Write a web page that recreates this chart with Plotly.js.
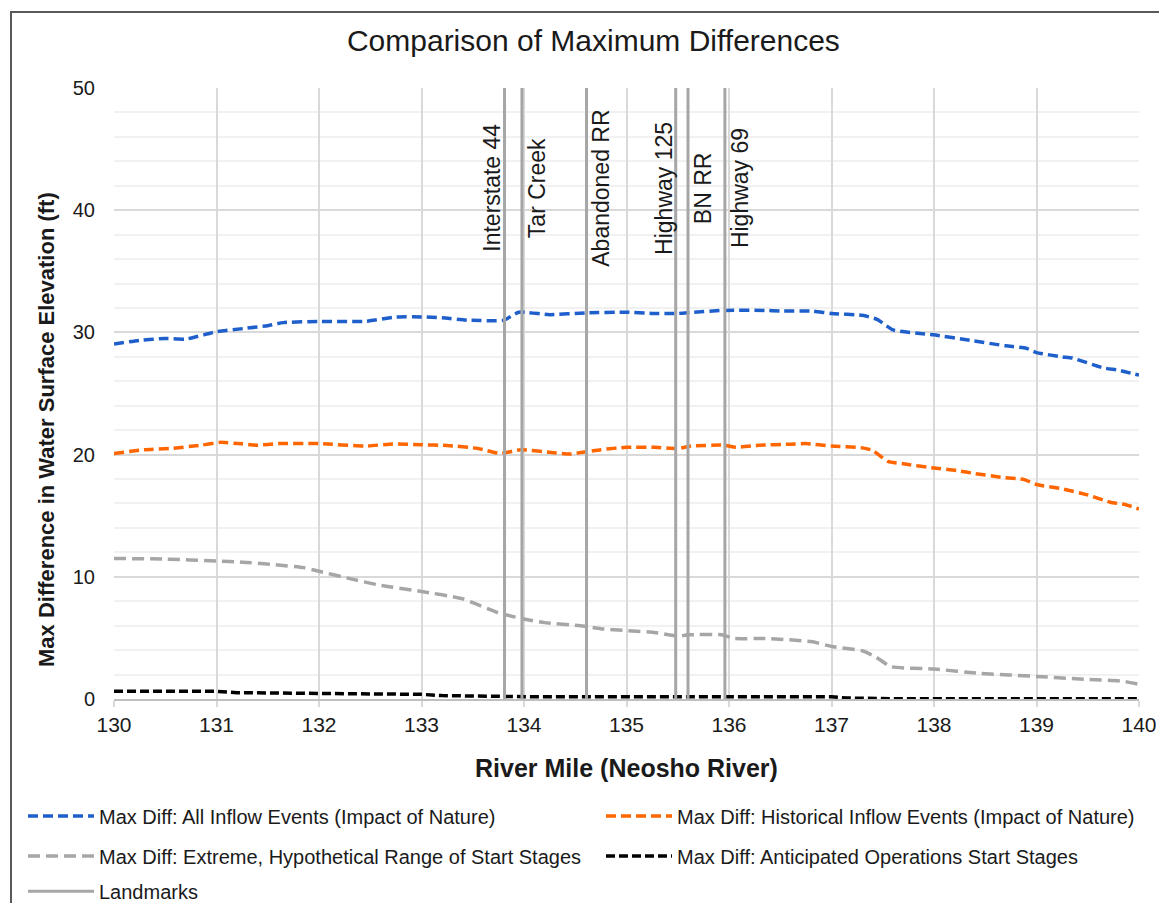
<!DOCTYPE html>
<html><head><meta charset="utf-8">
<script src="https://cdn.plot.ly/plotly-3.0.1.min.js"></script>
<style>html,body{margin:0;padding:0;background:#fff;overflow:hidden}#chart{width:1159px;height:903px}</style>
</head><body><div id="chart"></div>
<script>
// ---- data ----
const allInflowX = [130,130.25,130.5,130.7,131,131.3,131.5,131.65,132,132.45,132.75,133,133.2,133.45,133.8,133.95,134.25,134.6,135,135.25,135.5,135.65,135.95,136.35,136.5,136.8,137,137.3,137.45,137.6,138,138.35,138.7,138.9,139,139.25,139.35,139.65,139.8,140];
const allInflowY = [29.05,29.35,29.5,29.45,30.05,30.35,30.55,30.8,30.9,30.9,31.25,31.27,31.2,31.0,31.0,31.65,31.45,31.6,31.65,31.55,31.55,31.65,31.8,31.8,31.75,31.75,31.55,31.4,31.05,30.2,29.8,29.35,28.9,28.7,28.35,28.0,27.9,27.1,26.9,26.5];

const histX = [130,130.3,130.55,130.85,131.03,131.25,131.4,131.6,132,132.45,132.72,133,133.25,133.55,133.77,133.97,134.25,134.45,134.75,135,135.27,135.5,135.63,135.95,136.07,136.3,136.6,136.75,137,137.3,137.4,137.55,137.7,138,138.22,138.4,138.65,138.88,139,139.25,139.5,139.72,139.87,140];
const histY = [20.08,20.4,20.5,20.77,21.0,20.88,20.77,20.9,20.9,20.7,20.87,20.8,20.75,20.5,20.1,20.4,20.2,20.05,20.4,20.6,20.6,20.5,20.7,20.77,20.6,20.77,20.85,20.9,20.7,20.55,20.35,19.45,19.25,18.9,18.7,18.45,18.15,17.95,17.55,17.2,16.7,16.1,15.9,15.55];

const extremeX = [130,130.5,131,131.25,131.55,131.85,132,132.3,132.6,133,133.4,133.75,134,134.2,134.55,134.75,135,135.27,135.5,135.6,135.93,136.05,136.35,136.8,137,137.3,137.43,137.58,138,138.45,139,139.5,139.85,140];
const extremeY = [11.5,11.45,11.3,11.2,11.0,10.75,10.45,9.85,9.3,8.8,8.2,7.05,6.55,6.25,6.0,5.75,5.6,5.45,5.15,5.25,5.25,4.95,4.95,4.7,4.3,3.95,3.45,2.65,2.45,2.1,1.85,1.6,1.45,1.2];

const anticX = [130,131,131.2,132,133,133.2,134,134.1,137,137.15,137.6,140];
const anticY = [0.63,0.63,0.52,0.47,0.38,0.28,0.25,0.18,0.18,0.08,0.02,0.02];

const landmarkNames = ['Interstate 44','Tar Creek','Abandoned RR','Highway 125','BN RR','Highway 69'];
const landmarkMiles = [133.81,133.98,134.61,135.48,135.60,135.96];
const landmarkSide  = ['left','right','right','left','right','right'];
const landmarkRange = [0,50];

const seriesNames = [
  'Max Diff: All Inflow Events (Impact of Nature)',
  'Max Diff: Historical Inflow Events (Impact of Nature)',
  'Max Diff: Extreme, Hypothetical Range of Start Stages',
  'Max Diff: Anticipated Operations Start Stages',
  'Landmarks'
];
const xTicks = [130,131,132,133,134,135,136,137,138,139,140];
const yTicks = [0,10,20,30,40,50];

// ---- chart ----
const FONT = 'Liberation Sans, Arial, sans-serif';
const TXT = '#1a1a1a';

const lmX = [], lmY = [];
landmarkMiles.forEach(m => { lmX.push(m, m, null); lmY.push(landmarkRange[0], landmarkRange[1], null); });

const traces = [
  {x: allInflowX, y: allInflowY, name: seriesNames[0], mode: 'lines', legend: 'legend',
   line: {color: '#1f5fcc', width: 3.5, dash: '10px,5px', shape: 'spline', smoothing: 0.5}},
  {x: histX, y: histY, name: seriesNames[1], mode: 'lines', legend: 'legend2',
   line: {color: '#ff6600', width: 3.5, dash: '10px,5px', shape: 'spline', smoothing: 0.5}},
  {x: extremeX, y: extremeY, name: seriesNames[2], mode: 'lines', legend: 'legend3',
   line: {color: '#a6a6a6', width: 3.5, dash: '12px,6px', shape: 'spline', smoothing: 0.5}},
  {x: anticX, y: anticY, name: seriesNames[3], mode: 'lines', legend: 'legend4',
   line: {color: '#000000', width: 3.5, dash: '9px,4px'}},
  {x: lmX, y: lmY, name: seriesNames[4], mode: 'lines', legend: 'legend5',
   line: {color: '#a6a6a6', width: 3}, connectgaps: false}
];

const annotations = landmarkNames.map((n, i) => ({
  x: landmarkMiles[i], y: 41.8, xref: 'x', yref: 'y', text: n, showarrow: false,
  textangle: -90, xanchor: 'center', yanchor: 'middle',
  xshift: landmarkSide[i] === 'left' ? -12 : 15,
  font: {family: FONT, size: 23, color: TXT}
}));
// y-axis title (placed like the reference, slightly below the plot centre)
annotations.push({
  text: '<b>Max Difference in Water Surface Elevation (ft)</b>', showarrow: false,
  xref: 'paper', yref: 'paper', x: -0.0654, y: 0.4419, xanchor: 'center', yanchor: 'middle',
  textangle: -90, font: {family: FONT, size: 22, color: TXT}
});

const legendBase = {orientation: 'h', xanchor: 'left', yanchor: 'middle',
  font: {family: FONT, size: 20, color: TXT}, itemwidth: 66,
  bgcolor: 'rgba(0,0,0,0)', borderwidth: 0};
const colX = [-0.0888, 0.4751];
const rowY = [-0.1915, -0.2569, -0.3145];

const layout = {
  width: 1159, height: 903,
  margin: {l: 114, r: 20, t: 88, b: 204, autoexpand: false},
  paper_bgcolor: '#fff', plot_bgcolor: '#fff',
  title: {text: 'Comparison of Maximum Differences', x: 0.512, xanchor: 'center', y: 0.955, yanchor: 'middle',
          font: {family: FONT, size: 30, color: TXT}},
  xaxis: {range: [130, 140], tickvals: xTicks, ticktext: xTicks.map(String),
          showgrid: true, gridcolor: '#d9d9d9', gridwidth: 2,
          ticks: 'outside', ticklen: 6, tickwidth: 2, tickcolor: '#d9d9d9', ticklabelstandoff: 0,
          showline: true, linecolor: '#bfbfbf', linewidth: 2, zeroline: false,
          tickfont: {family: FONT, size: 21, color: TXT},
          title: {text: '<b>River Mile (Neosho River)</b>', standoff: 24, font: {family: FONT, size: 25, color: TXT}}},
  yaxis: {range: [0, 50], tickvals: yTicks, ticktext: yTicks.map(String),
          showgrid: true, gridcolor: '#d9d9d9', gridwidth: 2, zeroline: false, showline: false,
          ticks: '', ticklabelstandoff: 18,
          minor: {dtick: 2, showgrid: true, gridcolor: '#f1f1f1', gridwidth: 2, ticks: ''},
          tickfont: {family: FONT, size: 20, color: TXT}},
  showlegend: true,
  legend:  Object.assign({}, legendBase, {x: colX[0], y: rowY[0]}),
  legend2: Object.assign({}, legendBase, {x: colX[1], y: rowY[0]}),
  legend3: Object.assign({}, legendBase, {x: colX[0], y: rowY[1]}),
  legend4: Object.assign({}, legendBase, {x: colX[1], y: rowY[1]}),
  legend5: Object.assign({}, legendBase, {x: colX[0], y: rowY[2]}),
  annotations: annotations,
  shapes: [
    {type: 'rect', xref: 'paper', yref: 'paper', x0: -0.1005, x1: 1.2, y0: -0.6, y1: 1.1245,
     line: {color: '#595959', width: 2}, fillcolor: 'rgba(0,0,0,0)', layer: 'below'}
  ]
};

Plotly.newPlot('chart', traces, layout, {displayModeBar: false, staticPlot: true});
</script></body></html>
